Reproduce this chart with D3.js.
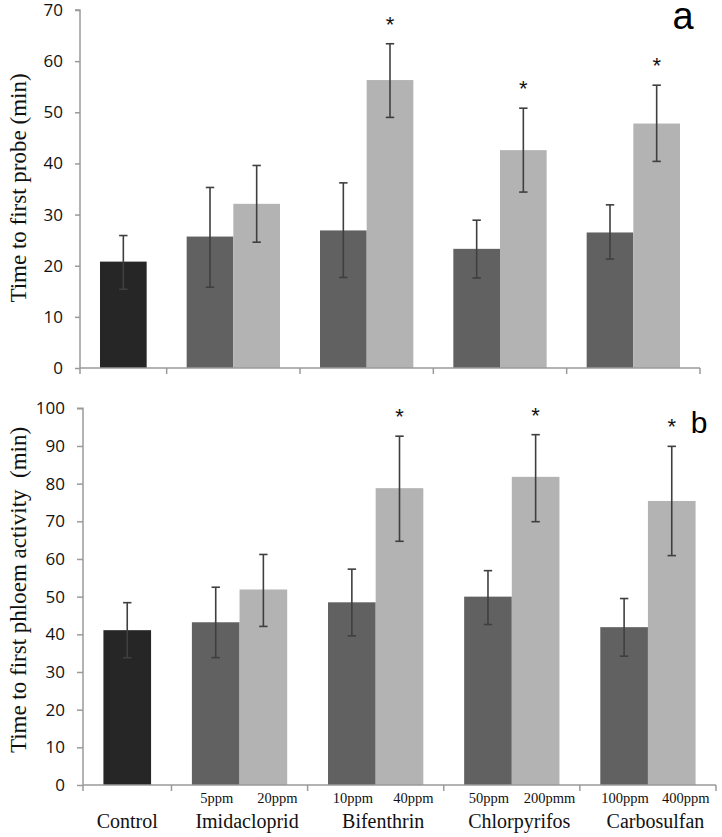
<!DOCTYPE html>
<html>
<head>
<meta charset="utf-8">
<script src="https://cdn.jsdelivr.net/npm/d3@7/dist/d3.min.js"></script>
<style>
  body { margin: 0; background: #fff; }
  svg { display: block; }
</style>
</head>
<body>
<svg id="chart" width="722" height="837"></svg>
<script>
// categories and doses
const groups = ["Control", "Imidacloprid", "Bifenthrin", "Chlorpyrifos", "Carbosulfan"];
const doses = [[], ["5ppm", "20ppm"], ["10ppm", "40ppm"], ["50ppm", "200pmm"], ["100ppm", "400ppm"]];

// bars in order: control, then low/high dose of each insecticide
const barGroup = [0, 1, 1, 2, 2, 3, 3, 4, 4];
const barKind  = ["control", "low", "high", "low", "high", "low", "high", "low", "high"];

// panel a: time to first probe
const probeMean = [20.8, 25.7, 32.1, 26.9, 56.3, 23.3, 42.6, 26.5, 47.8];
const probeHi   = [25.9, 35.3, 39.6, 36.2, 63.4, 28.9, 50.8, 31.9, 55.3];
const probeLo   = [15.4, 15.8, 24.6, 17.7, 49.0, 17.6, 34.4, 21.3, 40.4];
const probeSig  = [false, false, false, false, true, false, true, false, true];
const probeTicks = [0, 10, 20, 30, 40, 50, 60, 70];

// panel b: time to first phloem activity
const phloemMean = [41.1, 43.2, 51.9, 48.5, 78.8, 50.0, 81.8, 41.9, 75.4];
const phloemHi   = [48.4, 52.5, 61.2, 57.3, 92.6, 56.9, 93.0, 49.5, 89.9];
const phloemLo   = [33.8, 33.8, 42.1, 39.6, 64.7, 42.6, 69.9, 34.2, 60.9];
const phloemSig  = [false, false, false, false, true, false, true, false, true];
const phloemTicks = [0, 10, 20, 30, 40, 50, 60, 70, 80, 90, 100];

const fill = { control: "#262626", low: "#616161", high: "#b3b3b3" };
const axisColor = "#9a9a9a";
const serif = "'Liberation Serif', 'Times New Roman', serif";
const sans = "'Open Sans', 'Noto Sans', sans-serif";

const svg = d3.select("#chart");

// each category: its bars plus a gap of 0.857 bar widths (split both sides)
const gapUnits = 0.857;
const catStart = [], catEnd = [];
let acc = 0;
groups.forEach((g, i) => {
  const n = i === 0 ? 1 : 2;
  catStart.push(acc);
  acc += n + gapUnits;
  catEnd.push(acc);
});
const totalUnits = acc;
// bar start (in units)
const barStart = barGroup.map((g, i) => {
  const first = barGroup.indexOf(g);
  return catStart[g] + gapUnits / 2 + (i - first);
});

function panel(opt) {
  const x = d3.scaleLinear().domain([0, totalUnits]).range([opt.left, opt.right]);
  const y = d3.scaleLinear().domain([0, opt.max]).range([opt.bottom, opt.top]);
  const g = svg.append("g");
  const bw = x(1) - x(0);

  // bars
  g.selectAll("rect.bar")
    .data(opt.mean)
    .enter().append("rect")
    .attr("class", "bar")
    .attr("x", (d, i) => x(barStart[i]))
    .attr("width", bw)
    .attr("y", d => y(d))
    .attr("height", d => y(0) - y(d))
    .attr("fill", (d, i) => fill[barKind[i]]);

  // error bars
  const err = g.append("g").attr("stroke", "#3f3f3f").attr("stroke-width", 1.6).attr("fill", "none");
  opt.mean.forEach((d, i) => {
    const cx = x(barStart[i] + 0.5);
    err.append("line").attr("x1", cx).attr("x2", cx).attr("y1", y(opt.hi[i])).attr("y2", y(opt.lo[i]));
    [opt.hi[i], opt.lo[i]].forEach(v => {
      err.append("line").attr("x1", cx - 4.2).attr("x2", cx + 4.2).attr("y1", y(v)).attr("y2", y(v));
    });
    if (opt.sig[i]) {
      g.append("text")
        .attr("x", cx)
        .attr("y", y(opt.hi[i]) - 12)
        .attr("text-anchor", "middle")
        .attr("font-family", "'Liberation Sans', Arial, sans-serif")
        .attr("font-size", 22)
        .attr("fill", "#111")
        .text("*");
    }
  });

  // y axis
  const yAxis = d3.axisLeft(y).tickValues(opt.ticks).tickSize(opt.tick).tickPadding(12);
  const ya = g.append("g").attr("transform", `translate(${opt.left},0)`).call(yAxis);
  ya.select(".domain").attr("stroke", axisColor).attr("stroke-width", 1.5)
    .attr("d", `M-${opt.tick},${opt.top}H0V${opt.bottom}`);
  ya.selectAll(".tick line").attr("stroke", axisColor).attr("stroke-width", 1.5);
  ya.selectAll(".tick text").attr("font-family", sans).attr("font-size", 17).attr("fill", "#111");

  // x axis with ticks at category boundaries
  const bounds = [catStart[0]].concat(catEnd);
  const xa = g.append("g").attr("stroke", axisColor).attr("stroke-width", 1.5);
  xa.append("line").attr("x1", x(0)).attr("x2", x(totalUnits)).attr("y1", y(0)).attr("y2", y(0));
  xa.selectAll("line.tk").data(bounds).enter().append("line")
    .attr("class", "tk")
    .attr("x1", d => x(d)).attr("x2", d => x(d))
    .attr("y1", y(0)).attr("y2", y(0) + 6);

  // y title
  g.append("text")
    .attr("transform", `translate(${opt.titleX},${opt.titleY}) rotate(-90)`)
    .attr("text-anchor", "middle")
    .attr("font-family", serif)
    .attr("font-size", 23)
    .attr("fill", "#111")
    .attr("xml:space", "preserve")
    .text(opt.title);

  // panel letter
  g.append("text")
    .attr("x", opt.letterX).attr("y", opt.letterY)
    .attr("text-anchor", "middle")
    .attr("font-family", "'Liberation Sans', Arial, sans-serif")
    .attr("font-size", opt.letterSize)
    .attr("fill", "#000")
    .text(opt.letter);

  return { x, y };
}

panel({
  left: 80, right: 700, top: 10, bottom: 368, max: 70, ticks: probeTicks, tick: 5,
  mean: probeMean, hi: probeHi, lo: probeLo, sig: probeSig,
  title: "Time to first probe (min)", titleX: 26, titleY: 188,
  letter: "a", letterX: 683, letterY: 29, letterSize: 38
});

const b = panel({
  left: 83, right: 716, top: 408.3, bottom: 785, max: 100, ticks: phloemTicks, tick: 6,
  mean: phloemMean, hi: phloemHi, lo: phloemLo, sig: phloemSig,
  title: "Time to first phloem activity  (min)", titleX: 26, titleY: 590,
  letter: "b", letterX: 699, letterY: 433, letterSize: 30
});

// category and dose labels under panel b
const lab = svg.append("g").attr("font-family", serif).attr("fill", "#111").attr("text-anchor", "middle");
groups.forEach((gname, gi) => {
  let cx;
  if (gi === 0) {
    cx = b.x((catStart[gi] + catEnd[gi]) / 2);
  } else {
    const first = barGroup.indexOf(gi);
    const p = doses[gi].map((d, k) => b.x(barStart[first + k] + 0.5) + (k === 0 ? 1 : 14));
    doses[gi].forEach((d, k) => {
      lab.append("text").attr("x", p[k]).attr("y", 803).attr("font-size", 14.5).text(d);
    });
    cx = (p[0] + p[1]) / 2;
  }
  lab.append("text").attr("x", cx).attr("y", 828).attr("font-size", 20).text(gname);
});
</script>
</body>
</html>
